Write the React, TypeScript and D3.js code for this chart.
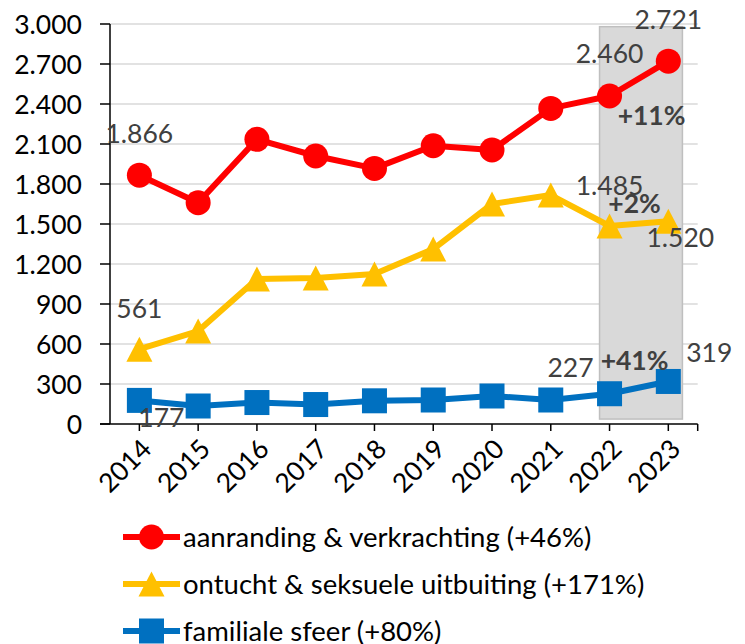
import React from "react";
import * as d3 from "d3";

const years = ["2014", "2015", "2016", "2017", "2018", "2019", "2020", "2021", "2022", "2023"];
const aanranding = [1866, 1660, 2135, 2010, 1917, 2087, 2055, 2367, 2460, 2721];
const ontucht = [561, 697, 1088, 1095, 1125, 1312, 1650, 1717, 1485, 1520];
const familiale = [177, 135, 161, 146, 174, 180, 210, 180, 227, 319];
const yTicks = [0, 300, 600, 900, 1200, 1500, 1800, 2100, 2400, 2700, 3000];
const seriesNames = [
  "aanranding & verkrachting (+46%)",
  "ontucht & seksuele uitbuiting (+171%)",
  "familiale sfeer (+80%)",
];
const colors = ["#FF0000", "#FFC000", "#0070C0"];
const markers = ["circle", "triangle", "square"];
const highlightYears = ["2022", "2023"];

// value labels: series index, year index, dx, dy
const valueLabels = [
  { s: 0, i: 0, dx: 0, dy: -32 },
  { s: 0, i: 8, dx: 0, dy: -33 },
  { s: 0, i: 9, dx: 0, dy: -32 },
  { s: 1, i: 0, dx: 0, dy: -31 },
  { s: 1, i: 8, dx: 0, dy: -31 },
  { s: 1, i: 9, dx: 12, dy: 26 },
  { s: 2, i: 0, dx: 22, dy: 27 },
  { s: 2, i: 8, dx: -39, dy: -17 },
  { s: 2, i: 9, dx: 41, dy: -19 },
];
const changeLabels = [
  { s: 0, text: "+11%", dx: 42, dy: 29 },
  { s: 1, text: "+2%", dx: 25, dy: -13 },
  { s: 2, text: "+41%", dx: 25, dy: -24 },
];

const FONT = "Lato, 'Noto Sans', sans-serif";
const fmt = (v: number) => d3.format(",")(v).replace(/,/g, ".");

function Marker({ type, cx, cy, color }: { type: string; cx: number; cy: number; color: string }) {
  if (type === "circle") return <circle cx={cx} cy={cy} r={12.5} fill={color} />;
  if (type === "square") return <rect x={cx - 12.5} y={cy - 12.5} width={25} height={25} fill={color} />;
  const h = 25;
  const w = 26;
  return (
    <path
      d={`M${cx},${cy - h / 2} L${cx + w / 2},${cy + h / 2} L${cx - w / 2},${cy + h / 2} Z`}
      fill={color}
    />
  );
}

export default function App() {
  const width = 745;
  const height = 644;
  const left = 110;
  const right = 697.7;
  const top = 24;
  const bottom = 424;

  const x = d3.scaleBand<string>().domain(years).range([left, right]).padding(0);
  const bw = x.bandwidth();
  const cx = (yr: string) => (x(yr) as number) + bw / 2;
  const y = d3.scaleLinear().domain([0, 3000]).range([bottom, top]);

  const data = [aanranding, ontucht, familiale];
  const line = d3
    .line<number>()
    .x((_, i) => cx(years[i]))
    .y((d) => y(d));

  const hx0 = cx(highlightYears[0]) - bw * 0.17;
  const hx1 = cx(highlightYears[1]) + bw * 0.24;

  const legendY = [537, 584, 631];

  return (
    <svg
      width={width}
      height={height}
      style={{ position: "absolute", left: 0, top: 0, background: "#fff" }}
      fontFamily={FONT}
    >
      {/* gridlines */}
      {yTicks.slice(1).map((t) => (
        <line key={t} x1={left} x2={right} y1={y(t)} y2={y(t)} stroke="#d9d9d9" strokeWidth={1.5} />
      ))}
      {/* highlight box */}
      <rect
        x={hx0}
        y={y(2980)}
        width={hx1 - hx0}
        height={y(37) - y(2980)}
        fill="#d9d9d9"
        stroke="#bfbfbf"
        strokeWidth={1.5}
      />
      {/* y axis */}
      <line x1={left} x2={left} y1={top} y2={bottom} stroke="#000" strokeWidth={1.5} />
      {yTicks.map((t) => (
        <g key={t}>
          <line x1={left - 10} x2={left} y1={y(t)} y2={y(t)} stroke="#000" strokeWidth={1.5} />
          <text x={82} y={y(t)} dy="0.36em" textAnchor="end" fontSize={26.5} fill="#000">
            {fmt(t)}
          </text>
        </g>
      ))}
      {/* x axis */}
      <line x1={left - 10} x2={right} y1={bottom} y2={bottom} stroke="#000" strokeWidth={1.5} />
      {years.map((yr) => (
        <line key={yr} x1={cx(yr)} x2={cx(yr)} y1={bottom} y2={bottom + 7} stroke="#000" strokeWidth={1.5} />
      ))}
      <line x1={right} x2={right} y1={bottom} y2={bottom + 7} stroke="#000" strokeWidth={1.5} />
      {years.map((yr) => (
        <text
          key={yr}
          transform={`translate(${cx(yr) + 7},${bottom + 20}) rotate(-45)`}
          textAnchor="end"
          dy="0.36em"
          fontSize={26.5}
          fill="#000"
        >
          {yr}
        </text>
      ))}
      {/* series */}
      {data.map((d, s) => (
        <g key={s}>
          <path d={line(d) as string} fill="none" stroke={colors[s]} strokeWidth={6} strokeLinejoin="round" />
          {d.map((v, i) => (
            <Marker key={i} type={markers[s]} cx={cx(years[i])} cy={y(v)} color={colors[s]} />
          ))}
        </g>
      ))}
      {/* value labels */}
      {valueLabels.map((l, k) => (
        <text
          key={k}
          x={cx(years[l.i]) + l.dx}
          y={y(data[l.s][l.i]) + l.dy}
          textAnchor="middle"
          fontSize={26.5}
          fill="#404040"
        >
          {fmt(data[l.s][l.i])}
        </text>
      ))}
      {changeLabels.map((l, k) => (
        <text
          key={k}
          x={cx(highlightYears[0]) + l.dx}
          y={y(data[l.s][8]) + l.dy}
          textAnchor="middle"
          fontSize={26.5}
          fontWeight="bold"
          fill="#404040"
        >
          {l.text}
        </text>
      ))}
      {/* legend */}
      {seriesNames.map((n, s) => (
        <g key={n}>
          <line x1={123} x2={180} y1={legendY[s]} y2={legendY[s]} stroke={colors[s]} strokeWidth={6} />
          <Marker type={markers[s]} cx={151.5} cy={legendY[s]} color={colors[s]} />
          <text x={183} y={legendY[s]} dy="0.36em" fontSize={27.5} fill="#000">
            {n}
          </text>
        </g>
      ))}
    </svg>
  );
}
